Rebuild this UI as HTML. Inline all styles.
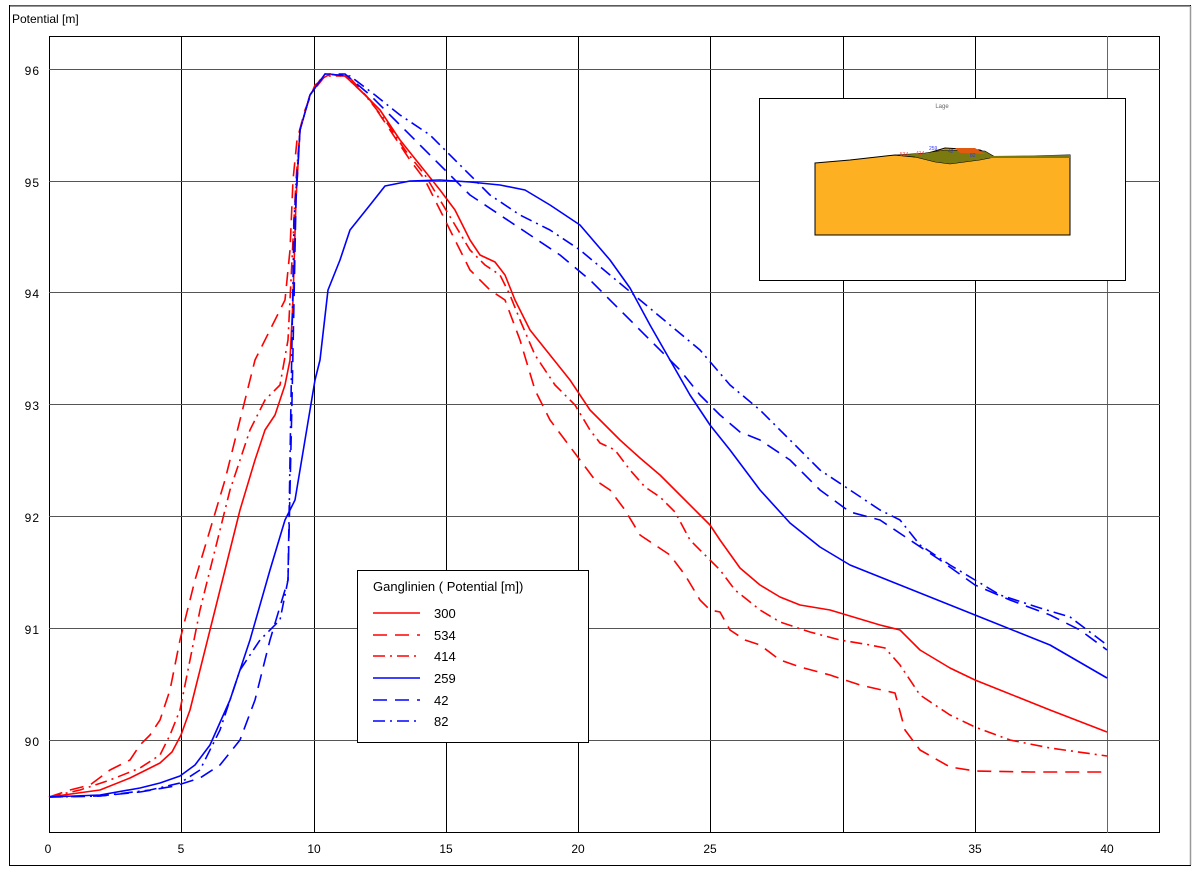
<!DOCTYPE html>
<html><head><meta charset="utf-8"><style>
html,body{margin:0;padding:0;background:#fff;}
svg{display:block;font-family:"Liberation Sans",sans-serif;}
</style></head><body>
<svg width="1200" height="878" viewBox="0 0 1200 878">
<rect x="0" y="0" width="1200" height="878" fill="#fff"/>
<rect x="9.5" y="5.5" width="1181" height="860" fill="none" stroke="#000" stroke-width="1"/>
<line x1="10" y1="6" x2="1190" y2="6" stroke="#777" stroke-width="1.5"/>
<line x1="1190.5" y1="6" x2="1190.5" y2="865" stroke="#999" stroke-width="1.5"/>
<text x="12" y="23" font-size="12">Potential [m]</text>
<!-- plot area -->
<rect x="49.5" y="36.5" width="1110" height="796" fill="#fff" stroke="#000"/>
<g stroke="#000" stroke-width="1">
<line x1="181.5" y1="36" x2="181.5" y2="833"/>
<line x1="314.5" y1="36" x2="314.5" y2="833"/>
<line x1="446.5" y1="36" x2="446.5" y2="833"/>
<line x1="578.5" y1="36" x2="578.5" y2="833"/>
<line x1="710.5" y1="36" x2="710.5" y2="833"/>
<line x1="843.5" y1="36" x2="843.5" y2="833"/>
<line x1="975.5" y1="36" x2="975.5" y2="833"/>
<line x1="1107.5" y1="36" x2="1107.5" y2="833" stroke="#666"/>
<line x1="49" y1="69.5" x2="1160" y2="69.5" stroke="#555"/>
<line x1="49" y1="181.5" x2="1160" y2="181.5" stroke="#555"/>
<line x1="49" y1="292.5" x2="1160" y2="292.5" stroke="#555"/>
<line x1="49" y1="404.5" x2="1160" y2="404.5" stroke="#555"/>
<line x1="49" y1="516.5" x2="1160" y2="516.5" stroke="#555"/>
<line x1="49" y1="628.5" x2="1160" y2="628.5" stroke="#555"/>
<line x1="49" y1="740.5" x2="1160" y2="740.5" stroke="#555"/>
</g>
<g font-size="12" text-anchor="end" letter-spacing="1">
<text x="40" y="75">96</text><text x="40" y="187">95</text><text x="40" y="298">94</text>
<text x="40" y="410">93</text><text x="40" y="522">92</text><text x="40" y="634">91</text><text x="40" y="746">90</text>
</g>
<g font-size="12" text-anchor="middle">
<text x="48" y="853">0</text><text x="181" y="853">5</text><text x="314" y="853">10</text>
<text x="446" y="853">15</text><text x="578" y="853">20</text><text x="710" y="853">25</text>
<text x="975" y="853">35</text><text x="1107" y="853">40</text>
</g>
<g fill="none" stroke-width="1.6" stroke-linejoin="round">
<polyline stroke="#f00" points="49,797 100,790 130,778 160,763 172,752 181,735 190,710 200,670 210,630 225,570 240,510 255,460 265,430 275,415 285,385 290,360 293,300 296,200 300,130 310,95 320,80 330,74 345,76 360,90 380,110 400,140 420,165 440,190 455,210 470,240 480,255 495,262 505,275 515,300 530,330 550,355 570,380 590,410 605,425 620,440 640,458 660,475 680,495 700,515 710,525 720,540 740,568 760,585 780,597 800,605 830,610 850,616 880,625 900,630 920,650 950,668 975,680 1000,690 1050,710 1107,732"/>
<polyline stroke="#f00" stroke-dasharray="14 8" points="49,797 70,790 90,785 110,770 130,760 140,745 150,735 160,720 170,690 180,640 195,580 210,530 225,480 240,420 255,360 270,330 285,300 290,250 293,180 297,140 305,110 315,85 330,74 350,78 370,100 390,130 410,160 425,180 440,210 455,240 470,270 490,290 505,300 520,340 535,390 550,420 565,440 580,460 595,480 610,490 625,510 640,535 655,545 670,555 685,575 700,600 710,610 720,612 730,630 745,640 760,645 780,660 800,667 830,675 860,685 895,693 905,730 920,750 950,767 975,771 1030,772 1107,772"/>
<polyline stroke="#f00" stroke-dasharray="12 5 2 5" points="49,797 80,790 110,780 140,768 160,755 170,735 180,710 190,660 200,610 215,550 230,490 250,430 265,400 280,385 288,340 292,260 296,180 300,130 310,95 325,76 345,76 365,95 385,120 405,150 425,175 440,200 455,225 470,250 485,265 500,275 510,295 520,320 535,355 555,385 575,405 590,430 600,443 615,450 630,470 645,487 660,497 675,512 690,540 705,555 720,570 735,590 760,610 780,622 810,632 840,640 870,645 885,648 900,665 920,695 950,715 975,727 1010,740 1050,748 1107,756"/>
<polyline stroke="#00f" points="49,797 100,795 140,788 160,783 180,776 195,765 210,745 230,700 250,640 270,570 285,520 295,500 305,440 315,380 320,360 328,290 340,260 350,230 370,205 385,186 410,181 440,180 470,182 500,185 525,190 550,205 580,225 610,260 630,288 650,325 670,360 690,395 710,425 730,450 760,490 790,523 820,547 850,565 900,585 950,605 1000,625 1050,645 1107,678"/>
<polyline stroke="#00f" stroke-dasharray="14 8" points="49,797 100,796 140,792 175,786 200,778 220,765 240,740 255,700 270,640 282,600 288,580 292,400 296,200 300,130 310,95 325,74 345,74 370,95 395,120 420,145 445,170 470,195 500,215 530,235 560,255 590,280 620,310 650,340 680,370 700,395 720,415 740,432 760,440 790,460 820,490 850,512 880,520 910,540 940,560 975,585 1010,600 1050,615 1080,630 1107,650"/>
<polyline stroke="#00f" stroke-dasharray="12 5 2 5" points="49,797 100,796 150,790 180,783 200,770 220,730 240,670 260,640 280,620 288,580 291,400 294,220 300,130 310,95 325,74 350,76 375,95 400,115 430,135 460,165 490,195 520,215 550,230 580,250 610,275 640,300 670,325 700,350 730,385 760,410 790,440 820,470 850,490 880,510 900,520 920,545 950,565 975,580 1000,595 1040,608 1070,617 1107,645"/>
</g>
<!-- inset -->
<rect x="759.5" y="98.5" width="366" height="182" fill="#fff" stroke="#000"/>
<text x="942" y="108" font-size="6" fill="#666" text-anchor="middle">Lage</text>
<polygon points="815,163 850,160 895,155 915,157 925,154 945,148 980,150 995,157 1070,155 1070,235 815,235" fill="#fdb022" stroke="#000" stroke-width="1"/>
<polygon points="895,155 925,153 945,150 985,151 995,157 980,160 950,164 935,162 915,157" fill="#7a7a10" stroke="#000" stroke-width="0.6"/>
<polygon points="955,148 975,148 985,154 960,153" fill="#e05a10"/>
<polygon points="990,156 1070,155 1070,158 990,158" fill="#7a7a10"/>
<text x="900" y="156" font-size="5" fill="#f33">534</text>
<text x="916" y="155" font-size="5" fill="#f33">414</text>
<text x="929" y="150" font-size="5" fill="#33f">259</text>
<text x="948" y="153" font-size="5" fill="#33f">42</text>
<text x="970" y="157" font-size="5" fill="#33f">82</text>
<!-- legend -->
<rect x="357.5" y="570.5" width="231" height="172" fill="#fff" stroke="#000"/>
<text x="373" y="591" font-size="13">Ganglinien ( Potential [m])</text>
<g stroke-width="1.6">
<line x1="373" y1="613" x2="420" y2="613" stroke="#f00"/>
<line x1="373" y1="635" x2="420" y2="635" stroke="#f00" stroke-dasharray="14 8"/>
<line x1="373" y1="656" x2="420" y2="656" stroke="#f00" stroke-dasharray="12 5 2 5"/>
<line x1="373" y1="678" x2="420" y2="678" stroke="#00f"/>
<line x1="373" y1="700" x2="420" y2="700" stroke="#00f" stroke-dasharray="14 8"/>
<line x1="373" y1="721" x2="420" y2="721" stroke="#00f" stroke-dasharray="12 5 2 5"/>
</g>
<g font-size="13">
<text x="434" y="618">300</text><text x="434" y="640">534</text><text x="434" y="661">414</text>
<text x="434" y="683">259</text><text x="434" y="705">42</text><text x="434" y="726">82</text>
</g>
</svg>
</body></html>
